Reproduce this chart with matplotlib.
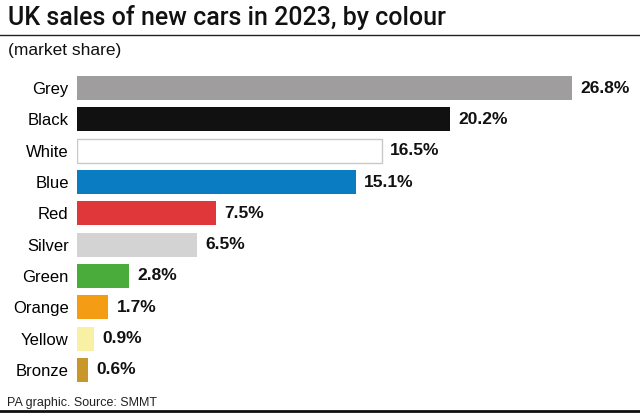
import matplotlib
matplotlib.use("Agg")
import matplotlib.pyplot as plt
from matplotlib.lines import Line2D

categories = ["Grey", "Black", "White", "Blue", "Red", "Silver", "Green", "Orange", "Yellow", "Bronze"]
values = [26.8, 20.2, 16.5, 15.1, 7.5, 6.5, 2.8, 1.7, 0.9, 0.6]
value_labels = ["26.8%", "20.2%", "16.5%", "15.1%", "7.5%", "6.5%", "2.8%", "1.7%", "0.9%", "0.6%"]
colors = ["#a09d9e", "#111111", "#ffffff", "#0a7dc2", "#e0383a", "#d4d3d3", "#4aac3a", "#f39c14", "#f8f0a4", "#c9962a"]
edges = ["none", "none", "#c8c8c8", "none", "none", "none", "none", "none", "none", "none"]

plt.rcParams['font.family'] = ['Liberation Sans', 'DejaVu Sans']

fig = plt.figure(figsize=(6.4, 4.19), dpi=100)
W, H = 640, 419
left_px, right_px = 77, 572
top_px, bot_px = 72.35, 385.65
ax = fig.add_axes([left_px / W, 1 - bot_px / H, (right_px - left_px) / W, (bot_px - top_px) / H])

ypos = list(range(len(categories)))
for y, v, c, e in zip(ypos, values, colors, edges):
    ax.barh(y, v, height=0.77, color=c, edgecolor=e if e != "none" else c,
            linewidth=1.0 if e != "none" else 0)
ax.set_xlim(0, 26.8)
ax.set_ylim(9.5, -0.5)
ax.set_yticks(ypos)
ax.set_yticklabels(categories, fontsize=12, family=['Liberation Sans', 'DejaVu Sans'])
ax.tick_params(axis='y', length=0, pad=6)
ax.set_xticks([])
for s in ax.spines.values():
    s.set_visible(False)
for y, v, lab in zip(ypos, values, value_labels):
    ax.annotate(lab, (v, y), xytext=(6, 0), textcoords='offset points', va='center', ha='left',
                fontsize=12.5, fontweight='bold', color='#111111', family=['Liberation Sans', 'DejaVu Sans'],
                annotation_clip=False)

fig.text(8 / W, 1 - 17 / H, "UK sales of new cars in 2023, by colour", fontsize=18, fontweight='medium',
         va='center', ha='left', color='#111111', family=['Roboto', 'Liberation Sans', 'DejaVu Sans'])
fig.add_artist(Line2D([0, 1], [1 - 35 / H, 1 - 35 / H], transform=fig.transFigure, color='#222222', lw=1.0))
fig.text(8 / W, 1 - 50 / H, "(market share)", fontsize=12.5, va='center', ha='left', color='#111111',
         family=['Liberation Sans', 'DejaVu Sans'])
fig.text(7 / W, 1 - 403 / H, "PA graphic. Source: SMMT", fontsize=9, va='center', ha='left', color='#222222',
         family=['Liberation Sans', 'DejaVu Sans'])
fig.add_artist(Line2D([0, 1], [1 - 411 / H, 1 - 411 / H], transform=fig.transFigure, color='#111111', lw=2.0))

fig.savefig("out.png", dpi=100)
